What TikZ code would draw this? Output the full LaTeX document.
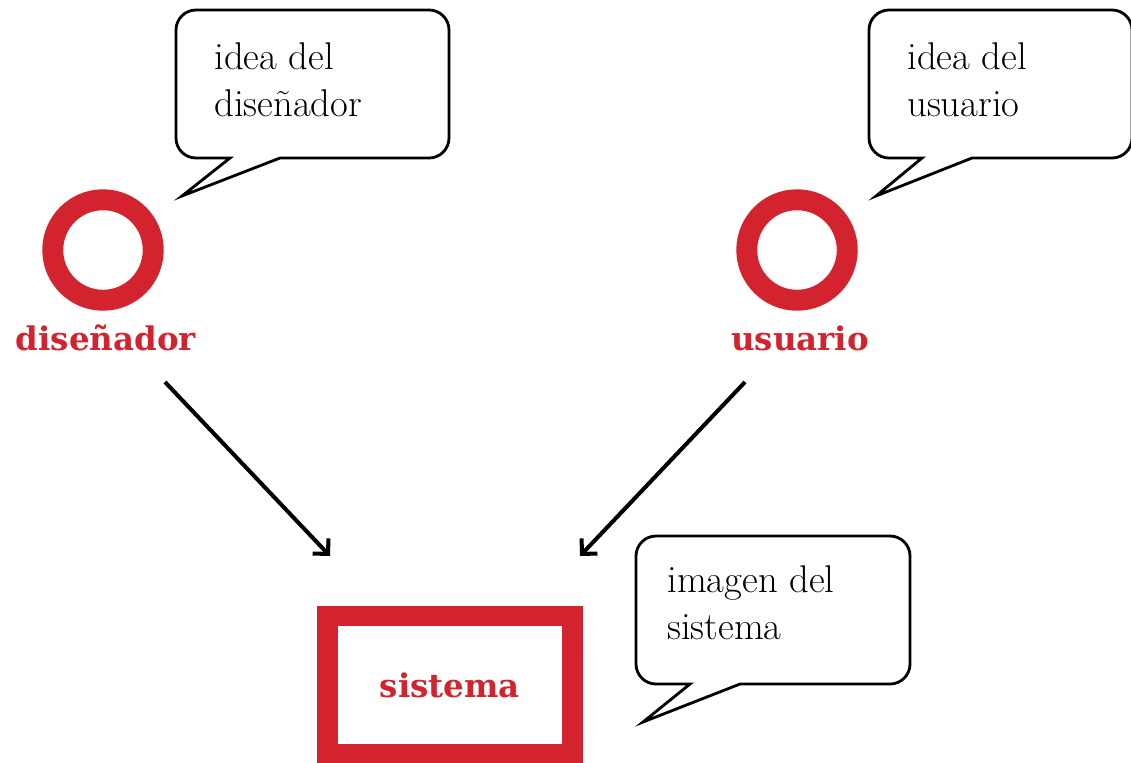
\documentclass[tikz,border=0pt]{standalone}
\usepackage{fontspec}
\usepackage{tikz}
\usetikzlibrary{arrows.meta}
\usepackage{xcolor}
\newfontfamily\labelfont{DejaVu Serif}
\definecolor{ring red}{HTML}{D2232E}

\begin{document}
\begin{tikzpicture}[x=0.02cm, y=-0.02cm,
	bubble/.style={draw=black, line width=1.6pt, fill=white, line join=miter},
	bubbletext/.style={anchor=north west, inner sep=0pt, align=left, font=\fontsize{22}{26.7}\selectfont},
	ring/.style={circle, draw=ring red, line width=11.9pt, minimum size=2.01cm, inner sep=0pt},
	lbl/.style={anchor=base, inner sep=0pt, text=ring red, font=\labelfont\bfseries\fontsize{18.5}{20}\selectfont},
	arr/.style={line width=2.3pt, -{Straight Barb[angle=90:3.1mm]}}]
			\useasboundingbox (0,0) rectangle (1131,762);
			% speech bubbles
			\draw[bubble] (182,196) -- (280,158) -- (429,158) arc[start angle=90, end angle=0, radius=20] -- (449,30) arc[start angle=0, end angle=-90, radius=20] -- (196,10) arc[start angle=-90, end angle=-180, radius=20] -- (176,138) arc[start angle=-180, end angle=-270, radius=20] -- (230,158) -- cycle;
			\draw[bubble] (876,196) -- (972,158) -- (1112,158) arc[start angle=90, end angle=0, radius=20] -- (1132,30) arc[start angle=0, end angle=-90, radius=20] -- (889,10) arc[start angle=-90, end angle=-180, radius=20] -- (869,138) arc[start angle=-180, end angle=-270, radius=20] -- (922,158) -- cycle;
			\draw[bubble] (643,722) -- (740,684) -- (890,684) arc[start angle=90, end angle=0, radius=20] -- (910,556) arc[start angle=0, end angle=-90, radius=20] -- (656,536) arc[start angle=-90, end angle=-180, radius=20] -- (636,664) arc[start angle=-180, end angle=-270, radius=20] -- (690,684) -- cycle;
			\node[bubbletext] (ideadis) at (214,42) {idea del\\dise\~nador};
			\node[bubbletext] (ideausu) at (907,42) {idea del\\usuario};
			\node[bubbletext] (imagensis) at (667,565) {imagen del\\sistema};
			% actors
			\node[ring] (disenador) at (103,250) {};
			\node[ring] (usuario) at (797,250) {};
			\node[lbl] (disenadorlbl) at (106,350) {dise\~nador};
			\node[lbl] (usuariolbl) at (800,350) {usuario};
			\node[draw=ring red, line width=11.9pt, minimum width=4.9cm, minimum height=2.76cm, inner sep=0pt, text=ring red, font=\labelfont\bfseries\fontsize{18.5}{20}\selectfont] (sistema) at (450,685) {sistema};
			% arrows
			\coordinate (fromdis) at (165,382);
			\coordinate (todis) at (330,556);
			\coordinate (fromusu) at (745,382);
			\coordinate (tousu) at (580,556);
			\draw[arr] (fromdis) -- (todis);
			\draw[arr] (fromusu) -- (tousu);
		\end{tikzpicture}
\end{document}
